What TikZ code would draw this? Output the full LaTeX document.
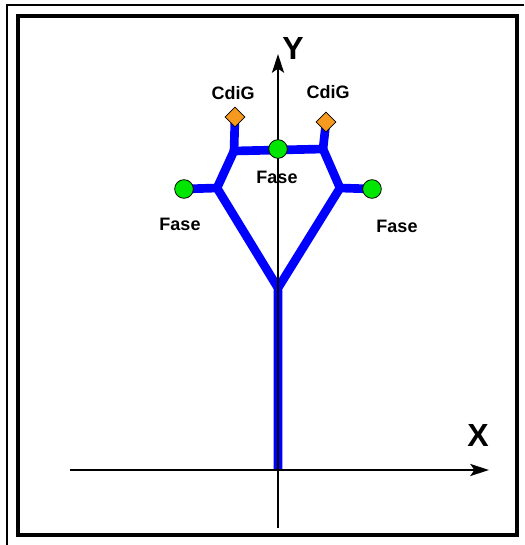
\documentclass[tikz,border=0pt]{standalone}
\usepackage{fontspec}
\setmainfont{Liberation Sans}
\usetikzlibrary{arrows.meta,shapes.geometric}
\definecolor{branch}{HTML}{0000FF}
\definecolor{phase}{HTML}{00E600}
\definecolor{cdig}{HTML}{F59A1E}
\tikzset{>={Stealth[length=14pt,width=9pt,inset=3pt]},
  x=.75pt,y=-.75pt,
  every node/.style={font=\bfseries\fontsize{13.5}{15}\selectfont},
  axis/.style={->,draw=black,line width=1.6pt},
  tree/.style={draw=branch,line width=6.5pt,line join=miter},
  fase/.style={circle,draw=black,line width=.6pt,fill=phase,minimum size=14pt,inner sep=0pt},
  cg/.style={diamond,draw=black,line width=.6pt,fill=cdig,minimum size=15pt,inner sep=0pt},
  axlabel/.style={font=\bfseries\fontsize{24}{28}\selectfont}}
\begin{document}
\begin{tikzpicture}
\path[use as bounding box] (0,0) rectangle (524,545);
% frames
\draw[line width=1.5pt] (524,5)--(7,5)--(7,545);
\draw[line width=3pt] (18,16) rectangle (517,535);
% axes
\coordinate (o) at (278,470);
\coordinate (xl) at (70,470);
\coordinate (xr) at (489,470);
\coordinate (yb) at (278,528);
\coordinate (yt) at (278,54);
% tree
\coordinate (j) at (278,288);
\coordinate (el) at (217,188);
\coordinate (er) at (340,188);
\coordinate (ul) at (234,151);
\coordinate (ur) at (323,149);
\coordinate (fl) at (184,189);
\coordinate (fr) at (372,189);
\coordinate (dl) at (235,117);
\coordinate (dr) at (326,122);
\draw[tree] (o)--(j)--(el)--(ul)--(ur)--(er)--(j);
\draw[tree] (el)--(fl) (er)--(fr) (ul)--(dl) (ur)--(dr);
\draw[axis] (yb)--(yt);\draw[axis] (xl)--(xr);
\node[fase] (nl) at (fl) {};
\node[fase] (nr) at (fr) {};
\node[fase] (nc) at (278,149) {};
\node[cg] (gl) at (dl) {};
\node[cg] (gr) at (dr) {};
\node[axlabel] (ylab) at (293,48) {Y};
\node[axlabel] (xlab) at (478,435) {X};
\node (cl) at (233,93) {CdiG};\node (cr) at (328,92) {CdiG};
\node (tc) at (277,177) {Fase};\node (tl) at (180,224) {Fase};\node (tr) at (397,226) {Fase};
\end{tikzpicture}
\end{document}
